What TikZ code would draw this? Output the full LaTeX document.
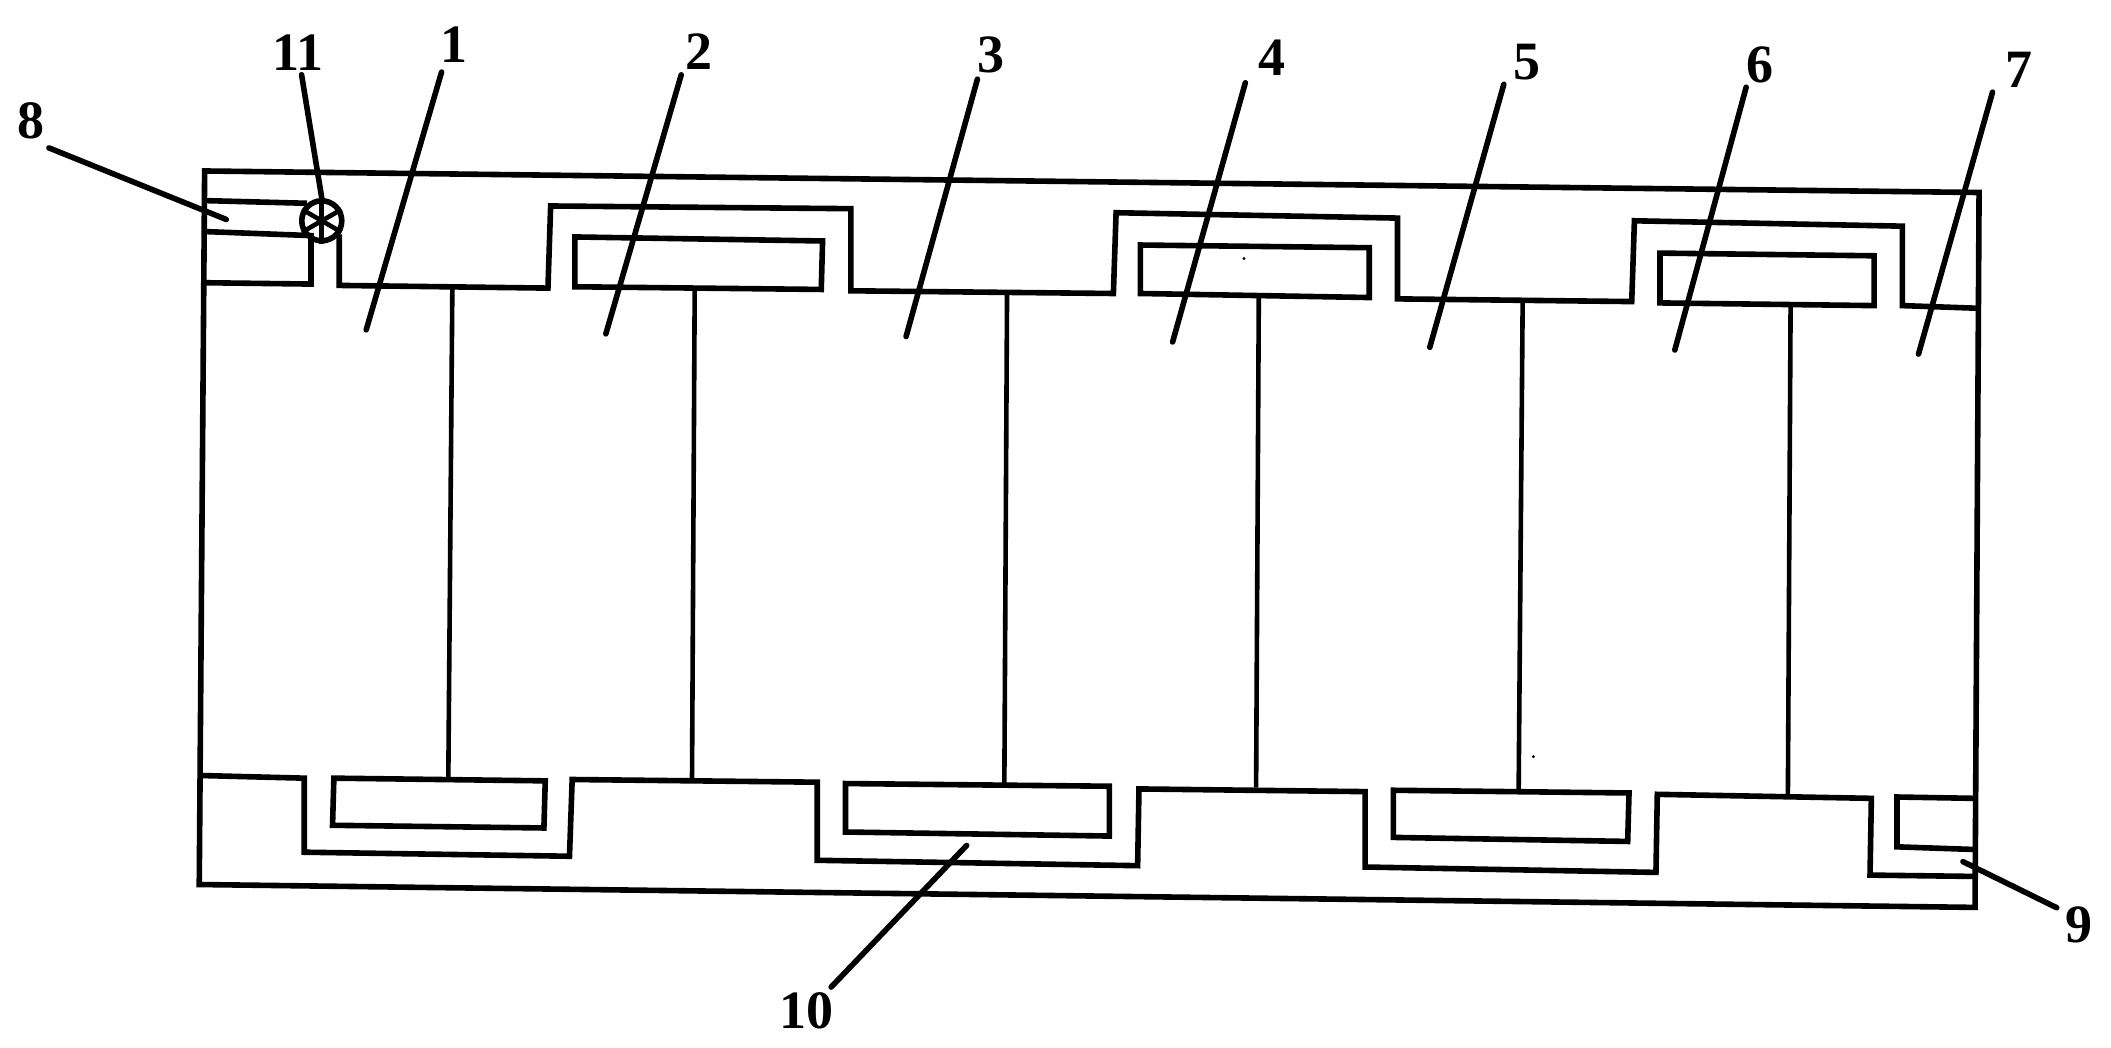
\documentclass[tikz,border=0pt]{standalone}
\usepackage{fontspec}
\setmainfont{Liberation Serif}
\tikzset{
  wall/.style={line width=2.8pt,line join=miter,draw=black},
  web/.style={line width=2.3pt,draw=black},
  leader/.style={line width=2.8pt,draw=black,line cap=round},
  numlabel/.style={font=\fontsize{27}{27}\selectfont\bfseries,inner sep=0pt,text=black},
  fan/.style={circle,draw=black,line width=2.8pt,minimum size=20pt,inner sep=0pt},
  spoke/.style={line width=2.3pt,draw=black}
}
\begin{document}
\begin{tikzpicture}[x=0.6732pt,y=-0.6732pt]
\useasboundingbox (0,0) rectangle (1568,778.4);
% outer casing
\draw[wall] (152,127) -- (1470,143) -- (1467,674) -- (148,657) -- cycle;
% box 8
\draw[wall] (152,149) -- (228,151);
\draw[wall] (152,172) -- (231,175) -- (231,211) -- (152,210);
% upper channel
\draw[wall] (252,174) -- (252,212) -- (407,214) -- (409,153) -- (632,155) -- (632,216) -- (827,218) -- (829,158) -- (1038,162) -- (1038,222) -- (1212,224) -- (1214,164) -- (1413,168) -- (1413,227) -- (1470,229);
% upper plates
\draw[wall] (427,176) -- (611,179) -- (610,215) -- (427,213) -- cycle;
\draw[wall] (847,182) -- (1017,184) -- (1017,221) -- (847,218) -- cycle;
\draw[wall] (1233,188) -- (1392,190) -- (1392,227) -- (1233,225) -- cycle;
% webs
\draw[web] (336,213) -- (333,578);
\draw[web] (516,215) -- (514,580);
\draw[web] (748,219) -- (746,583);
\draw[web] (935,221) -- (933,585);
\draw[web] (1131,223) -- (1128,588);
\draw[web] (1330,227) -- (1328,590);
% lower channel
\draw[wall] (148,576) -- (226,578) -- (226,633) -- (423,636) -- (425,579) -- (607,581) -- (607,639) -- (845,643) -- (846,586) -- (1014,588) -- (1014,644) -- (1230,648) -- (1231,590) -- (1390,593) -- (1389,650) -- (1467,651);
% lower plates
\draw[wall] (248,578) -- (405,580) -- (404,615) -- (247,613) -- cycle;
\draw[wall] (628,582) -- (824,584) -- (824,621) -- (628,618) -- cycle;
\draw[wall] (1035,587) -- (1210,589) -- (1209,625) -- (1035,622) -- cycle;
\draw[wall] (1467,593) -- (1409,592) -- (1409,629) -- (1467,631);
% fan 11
\node[fan] (fan) at (239,164) {};
\draw[spoke] (fan.north) -- (fan.south);
\draw[spoke] (fan.30) -- (fan.210);
\draw[spoke] (fan.150) -- (fan.330);
% specks
\fill (924,192) circle (0.8pt);
\fill (1139,562) circle (0.8pt);
% labels
\node[numlabel] (n1) at (337,33) {1};
\node[numlabel] (n2) at (519,38) {2};
\node[numlabel] (n3) at (736,41) {3};
\node[numlabel] (n4) at (945,43) {4};
\node[numlabel] (n5) at (1134,46) {5};
\node[numlabel] (n6) at (1307,48) {6};
\node[numlabel] (n7) at (1500,52) {7};
\node[numlabel] (n8) at (23,90) {8};
\node[numlabel] (n9) at (1544,687) {9};
\node[numlabel] (n10) at (599,751) {10};
\node[numlabel] (n11) at (221,39) {11};
% leader ends
\coordinate (e1) at (272,245);
\coordinate (e2) at (450,248);
\coordinate (e3) at (673,250);
\coordinate (e4) at (871,254);
\coordinate (e5) at (1062,258);
\coordinate (e6) at (1244,260);
\coordinate (e7) at (1425,263);
\coordinate (e8) at (168,163);
\coordinate (e9) at (1458,640);
\coordinate (e10) at (718,628);
% leaders
\draw[leader] ([shift={(-9,7)}]n1.south) -- (e1);
\draw[leader] ([shift={(-13,4)}]n2.south) -- (e2);
\draw[leader] ([shift={(-10,4)}]n3.south) -- (e3);
\draw[leader] ([shift={(-20,5)}]n4.south) -- (e4);
\draw[leader] ([shift={(-17,3)}]n5.south) -- (e5);
\draw[leader] ([shift={(-10,3)}]n6.south) -- (e6);
\draw[leader] ([shift={(-20,3)}]n7.south) -- (e7);
\draw[leader] ([shift={(3,6)}]n8.south east) -- (e8);
\draw[leader] ([shift={(-6,1)}]n9.north west) -- (e9);
\draw[leader] ([shift={(-2,-4)}]n10.north east) -- (e10);
\draw[leader] ([shift={(3,3)}]n11.south) -- (fan.north);
\end{tikzpicture}
\end{document}
